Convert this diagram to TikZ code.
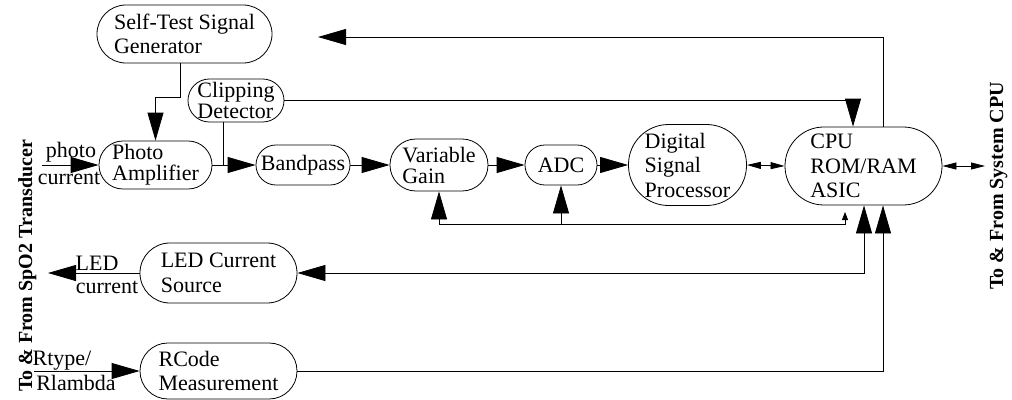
\documentclass[tikz,border=0pt]{standalone}
\usepackage{fontspec}
\setmainfont{Liberation Serif}
\usetikzlibrary{arrows.meta}

\begin{document}
\begin{tikzpicture}[x=1pt,y=-1pt,line width=0.8pt,
    blk/.style={draw, align=left, inner sep=0pt,
      font=\fontsize{22}{24.5}\selectfont},
    tight/.style={font=\fontsize{22}{21}\selectfont},
    big/.style={-{Triangle[length=28pt,width=16pt]}},
    bigb/.style={{Triangle[length=28pt,width=16pt]}-{Triangle[length=28pt,width=16pt]}},
    sml/.style={{Triangle[length=14pt,width=7pt]}-{Triangle[length=14pt,width=7pt]}},
    lbl/.style={font=\fontsize{22}{24}\selectfont, inner sep=0pt, anchor=base},
    side/.style={font=\fontsize{20}{24}\selectfont\bfseries, rotate=90,
      anchor=base, inner sep=0pt}]
  \useasboundingbox (0,0) rectangle (1012,399);
  % blocks
  \node[blk, minimum width=175pt, minimum height=58pt, rounded corners=28.9pt]
    (st) at (184.5,34) {Self-Test Signal\\Generator};
  \node[blk, minimum width=96pt, minimum height=43pt, rounded corners=21.4pt,
    font=\fontsize{22}{18}\selectfont] (clip) at (236,100.5) {Clipping\\Detector};
  \node[blk, tight, minimum width=113pt, minimum height=48pt, rounded corners=23.9pt]
    (pa) at (155.5,165) {Photo\\Amplifier};
  \node[blk, minimum width=94pt, minimum height=40pt, rounded corners=19.9pt]
    (bp) at (303,165) {Bandpass};
  \node[blk, tight, minimum width=98pt, minimum height=52pt, rounded corners=25.9pt]
    (vg) at (439,165) {Variable\\Gain};
  \node[blk, minimum width=72pt, minimum height=40pt, rounded corners=19.9pt]
    (adc) at (561,165) {ADC};
  \node[blk, minimum width=118pt, minimum height=81pt, rounded corners=40pt]
    (dsp) at (687.5,165) {Digital\\Signal\\Processor};
  \node[blk, minimum width=157pt, minimum height=78pt, rounded corners=38.9pt]
    (cpu) at (863.5,166) {CPU\\ROM/RAM\\ASIC};
  \node[blk, minimum width=157pt, minimum height=60pt, rounded corners=29.9pt]
    (led) at (218.5,273) {LED Current\\Source};
  \node[blk, minimum width=157pt, minimum height=56pt, rounded corners=27.9pt]
    (rc) at (218.5,371) {RCode\\Measurement};
  % free ends and bends
  \coordinate (pin) at (42,165);
  \coordinate (lout) at (48,273);
  \coordinate (rin) at (34,371);
  \coordinate (c0) at (180,63);
  \coordinate (j1) at (223,165);
  \coordinate (c1) at (853,99);
  \coordinate (c2) at (883,37);
  \coordinate (tst) at (318,37);
  \coordinate (c3) at (864,273);
  \coordinate (bus) at (845,224);
  \coordinate (busend) at (845,212);
  \coordinate (ext) at (985,166);
  % signal path
  \draw[big] (pin) -- (pa.west);
  \draw[big] (st.south -| c0) -- ++(0,34) -| (pa.north);
  \draw[big] (pa.east) -- (bp.west);
  \draw (clip.south -| j1) -- (j1);
  \draw[big] (clip.east) -| (cpu.north -| c1);
  \draw[big] (bp.east) -- (vg.west);
  \draw[big] (vg.east) -- (adc.west);
  \draw[big] (adc.east) -- (dsp.west);
  \draw[sml] (dsp.east) -- (cpu.west);
  \draw[sml] (cpu.east) -- (ext);
  \draw[big] (cpu.north -| c2) -- (c2) -- (tst);
  % control lines
  \draw[-{Triangle[length=8pt,width=6pt]}] (vg.south |- bus) -- (bus) -- (busend);
  \draw[big] (vg.south |- bus) -- (vg.south);
  \draw[big] (adc.south |- bus) -- (adc.south);
  \draw[bigb] (led.east) -- (c3) -- (cpu.south -| c3);
  \draw[big] (rc.east) -| (cpu.south -| c2);
  \draw[big] (led.west) -- (lout);
  \draw[big] (rin) -- (rc.west);
  % labels
  \node[lbl] (lph) at (71,157) {photo};
  \node[lbl] (lcu) at (69,184) {current};
  \node[lbl] (lled) at (97,270) {LED};
  \node[lbl] (lcu2) at (107,293) {current};
  \node[lbl] (lrt) at (62,365) {Rtype/};
  \node[lbl] (lrl) at (76,390) {Rlambda};
  \node[side] (spo) at (32,266) {To \& From SpO2 Transducer};
  \node[side] (sys) at (1003,186) {To \& From System CPU};
\end{tikzpicture}
\end{document}
